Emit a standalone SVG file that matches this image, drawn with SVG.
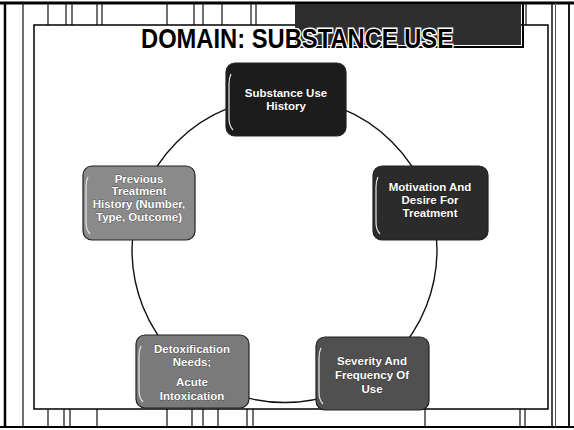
<svg xmlns="http://www.w3.org/2000/svg" width="574" height="430" viewBox="0 0 574 430">
  <style>
    .frame { stroke: #000; fill: none; }
    .strip line { stroke: #111; stroke-width: 1.2; }
    .node rect.box { stroke: #222; stroke-width: 1.2; }
    .node path.hl { fill: none; stroke: #e6e6e6; stroke-width: 1.2; }
    .node text { font-family: "Liberation Sans", Arial, sans-serif; font-weight: bold; font-size: 11.5px; fill: #fff; text-anchor: middle; stroke: #000; stroke-width: 0.35; paint-order: stroke; }
    .title { font-family: "Liberation Sans", Arial, sans-serif; font-weight: bold; font-size: 27px; fill: #000; stroke: #fff; stroke-width: 3; paint-order: stroke; }
  </style>

  <!-- page background -->
  <rect x="0" y="0" width="574" height="430" fill="#fff"/>

  <!-- outer page border -->
  <g id="page-frame">
    <line x1="0" y1="3" x2="574" y2="3" stroke="#000" stroke-width="3"/>
    <line x1="0" y1="427" x2="574" y2="427" stroke="#000" stroke-width="2"/>
    <line x1="5" y1="3" x2="5" y2="427" stroke="#000" stroke-width="2.5"/>
    <line x1="23" y1="3" x2="23" y2="427" stroke="#222" stroke-width="1.3"/>
    <line x1="552" y1="3" x2="552" y2="427" stroke="#111" stroke-width="1.5"/>
    <line x1="555.5" y1="3" x2="555.5" y2="427" stroke="#555" stroke-width="1"/>
    <line x1="569" y1="3" x2="569" y2="427" stroke="#000" stroke-width="1.8"/>
  </g>

  <!-- top and bottom ruled strips -->
  <g class="strip" id="top-strip">
    <line x1="48" y1="3" x2="48" y2="25"/>
    <line x1="66" y1="3" x2="66" y2="25"/>
    <line x1="72" y1="3" x2="72" y2="25"/>
    <line x1="97" y1="3" x2="97" y2="25"/>
    <line x1="102" y1="3" x2="102" y2="25"/>
    <line x1="167" y1="3" x2="167" y2="25"/>
    <line x1="194" y1="3" x2="194" y2="25"/>
    <line x1="203" y1="3" x2="203" y2="25"/>
    <line x1="222" y1="3" x2="222" y2="25"/>
    <line x1="251" y1="3" x2="251" y2="25"/>
    <line x1="256" y1="3" x2="256" y2="25"/>
    <line x1="526" y1="3" x2="526" y2="25"/>
  </g>
  <g class="strip" id="bottom-strip">
    <line x1="48" y1="409" x2="48" y2="427"/>
    <line x1="64" y1="409" x2="64" y2="427"/>
    <line x1="70" y1="409" x2="70" y2="427"/>
    <line x1="97" y1="409" x2="97" y2="427"/>
    <line x1="167" y1="409" x2="167" y2="427"/>
    <line x1="192" y1="409" x2="192" y2="427"/>
    <line x1="203" y1="409" x2="203" y2="427"/>
    <line x1="218" y1="409" x2="218" y2="427"/>
    <line x1="247" y1="409" x2="247" y2="427"/>
    <line x1="253" y1="409" x2="253" y2="427"/>
    <line x1="425" y1="409" x2="425" y2="427"/>
    <line x1="520" y1="409" x2="520" y2="427"/>
    <line x1="525" y1="409" x2="525" y2="427"/>
  </g>

  <!-- slide area -->
  <rect class="frame" x="34" y="25" width="514" height="384" fill="#fff" stroke-width="1.5"/>

  <!-- dark title bar with shadow frame -->
  <g id="title-bar">
    <rect x="295" y="4" width="226" height="41" fill="#2e2e2e"/>
    <polyline points="523,4 523,47 293,47" fill="none" stroke="#000" stroke-width="2"/>
  </g>

  <text class="title" x="141" y="48" textLength="312" lengthAdjust="spacingAndGlyphs">DOMAIN: SUBSTANCE USE</text>

  <!-- ring connecting the five items -->
  <g id="connectors">
    <circle cx="284.5" cy="250" r="152.5" fill="none" stroke="#111" stroke-width="1.4"/>
  </g>

  <g id="node-history" class="node">
    <rect class="box" x="226" y="63" width="120" height="73" rx="9" fill="#1c1c1c"/>
    <path class="hl" d="M231,74 Q229,78 229,84 L229,118 Q229,126 233,130"/>
    <text x="286" y="97">Substance Use</text>
    <text x="286" y="110">History</text>
  </g>

  <g id="node-motivation" class="node">
    <rect class="box" x="373" y="166" width="115" height="74" rx="9" fill="#2b2b2b"/>
    <path class="hl" d="M378,177 Q376,181 376,187 L376,222 Q376,230 380,234"/>
    <text x="430" y="191">Motivation And</text>
    <text x="430" y="204">Desire For</text>
    <text x="430" y="217">Treatment</text>
  </g>

  <g id="node-severity" class="node">
    <rect class="box" x="316" y="337" width="113" height="73" rx="9" fill="#505050"/>
    <path class="hl" d="M321,348 Q319,352 319,358 L319,392 Q319,400 323,404"/>
    <text x="372" y="365">Severity And</text>
    <text x="372" y="379">Frequency Of</text>
    <text x="372" y="393">Use</text>
  </g>

  <g id="node-detox" class="node">
    <rect class="box" x="136" y="335" width="113" height="73" rx="9" fill="#7a7a7a"/>
    <path class="hl" d="M141,346 Q139,350 139,356 L139,390 Q139,398 143,402"/>
    <text x="192" y="353">Detoxification</text>
    <text x="192" y="366">Needs;</text>
    <text x="192" y="386">Acute</text>
    <text x="192" y="400">Intoxication</text>
  </g>

  <g id="node-treatment" class="node">
    <rect class="box" x="83" y="166" width="112" height="74" rx="9" fill="#8a8a8a"/>
    <path class="hl" d="M88,177 Q86,181 86,187 L86,222 Q86,230 90,234"/>
    <text x="139" y="183">Previous</text>
    <text x="139" y="195">Treatment</text>
    <text x="139" y="208">History (Number,</text>
    <text x="139" y="221">Type, Outcome)</text>
  </g>
</svg>
